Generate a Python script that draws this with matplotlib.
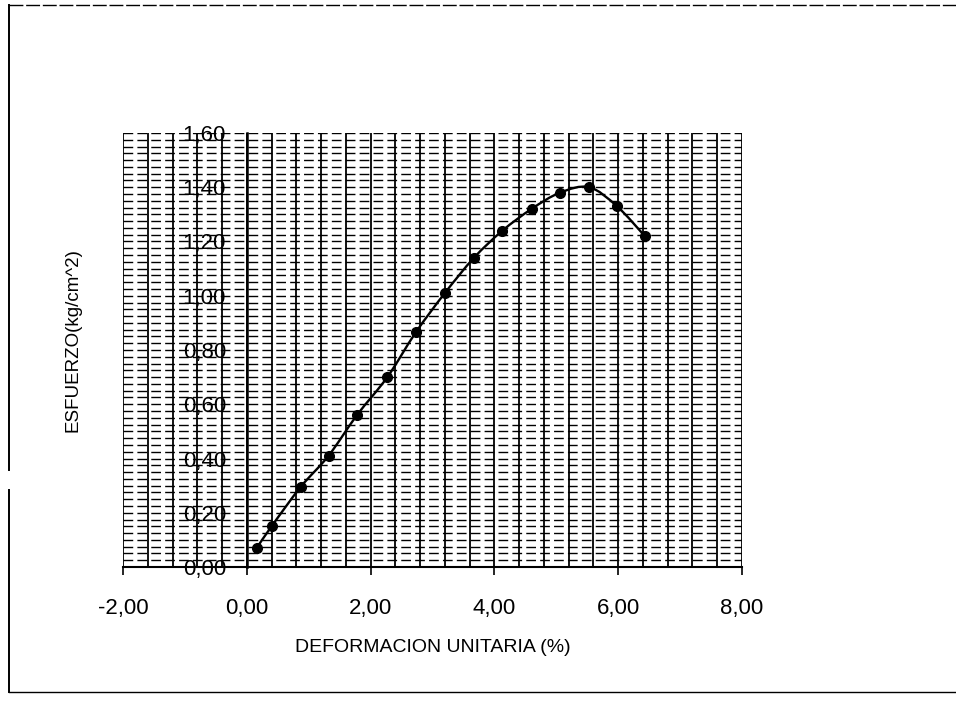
import numpy as np
import matplotlib
matplotlib.use('Agg')
import matplotlib.pyplot as plt
from matplotlib.path import Path
from matplotlib.patches import PathPatch
from matplotlib.lines import Line2D
from matplotlib.ticker import FuncFormatter, FixedLocator

plt.rcParams['font.family'] = ['Liberation Sans', 'DejaVu Sans']

# datos
deformacion = [0.16, 0.40, 0.87, 1.32, 1.78, 2.27, 2.73, 3.20, 3.67, 4.13, 4.60, 5.06, 5.53, 5.98, 6.43]
esfuerzo = [0.07, 0.15, 0.295, 0.41, 0.56, 0.70, 0.865, 1.01, 1.14, 1.24, 1.32, 1.38, 1.40, 1.33, 1.22]
x_ticks = [-2, 0, 2, 4, 6, 8]
y_ticks = [0.0, 0.2, 0.4, 0.6, 0.8, 1.0, 1.2, 1.4, 1.6]


def coma(v, pos):
    return f"{v:.2f}".replace('.', ',')


def curva_suave(xs, ys):
    # linea suavizada tipo Excel (Catmull-Rom -> Bezier)
    pts = np.column_stack([xs, ys])
    ext = np.vstack([pts[0], pts, pts[-1]])
    verts = [pts[0]]
    codes = [Path.MOVETO]
    for i in range(1, len(ext) - 2):
        p0, p1, p2, p3 = ext[i - 1], ext[i], ext[i + 1], ext[i + 2]
        verts += [p1 + (p2 - p0) / 6, p2 - (p3 - p1) / 6, p2]
        codes += [Path.CURVE4] * 3
    return Path(verts, codes)


fig = plt.figure(figsize=(9.56, 7.09), dpi=100)
ax = fig.add_axes([123 / 956, 1 - 567 / 709, 619 / 956, 434 / 709])

ax.set_xlim(-2, 8)
ax.set_ylim(0, 1.6)

# rejilla: verticales cada 0.4, horizontales muy densas
for xv in np.arange(-2, 8.01, 0.4):
    ax.axvline(xv, color='black', lw=1.3, zorder=1)
for yv in np.arange(0, 1.601, 0.025):
    ax.axhline(yv, color='black', lw=1.0, ls=(0, (7, 3)), zorder=1)

ax.add_patch(PathPatch(curva_suave(deformacion, esfuerzo), fill=False,
                       edgecolor='black', lw=1.7, zorder=3))
ax.plot(deformacion, esfuerzo, 'o', color='black', ms=7, zorder=4)

for s in ['top', 'right']:
    ax.spines[s].set_visible(False)
ax.spines['left'].set_position(('data', 0))
ax.spines['left'].set_linewidth(1.8)
ax.spines['bottom'].set_linewidth(1.5)

ax.xaxis.set_major_locator(FixedLocator(x_ticks))
ax.yaxis.set_major_locator(FixedLocator(y_ticks))
ax.xaxis.set_major_formatter(FuncFormatter(coma))
ax.yaxis.set_major_formatter(FuncFormatter(coma))
ax.tick_params(axis='x', direction='out', length=6, width=1.2, pad=16, labelsize=16)
ax.tick_params(axis='y', length=0, pad=15, labelsize=16)
for t in ax.get_yticklabels():
    t.set_zorder(5)

ax.set_xlabel('DEFORMACION UNITARIA (%)', fontsize=14, labelpad=15)
fig.text(73 / 956, 1 - 340 / 709, 'ESFUERZO(kg/cm^2)', rotation=90,
         fontsize=13.5, ha='center', va='center')

# marco de la hoja escaneada
fig.add_artist(Line2D([9 / 956, 1], [1 - 5 / 709, 1 - 5 / 709], color='black', lw=1.0,
                      ls=(0, (10, 2)), transform=fig.transFigure))
fig.add_artist(Line2D([9 / 956, 9 / 956], [1 - 5 / 709, 1 - 470 / 709], color='black',
                      lw=1.4, transform=fig.transFigure))
fig.add_artist(Line2D([9 / 956, 9 / 956], [1 - 490 / 709, 1 - 692 / 709], color='black',
                      lw=1.4, transform=fig.transFigure))
fig.add_artist(Line2D([9 / 956, 1], [1 - 692 / 709, 1 - 692 / 709], color='black',
                      lw=1.0, transform=fig.transFigure))

fig.savefig('out.png', dpi=100)
